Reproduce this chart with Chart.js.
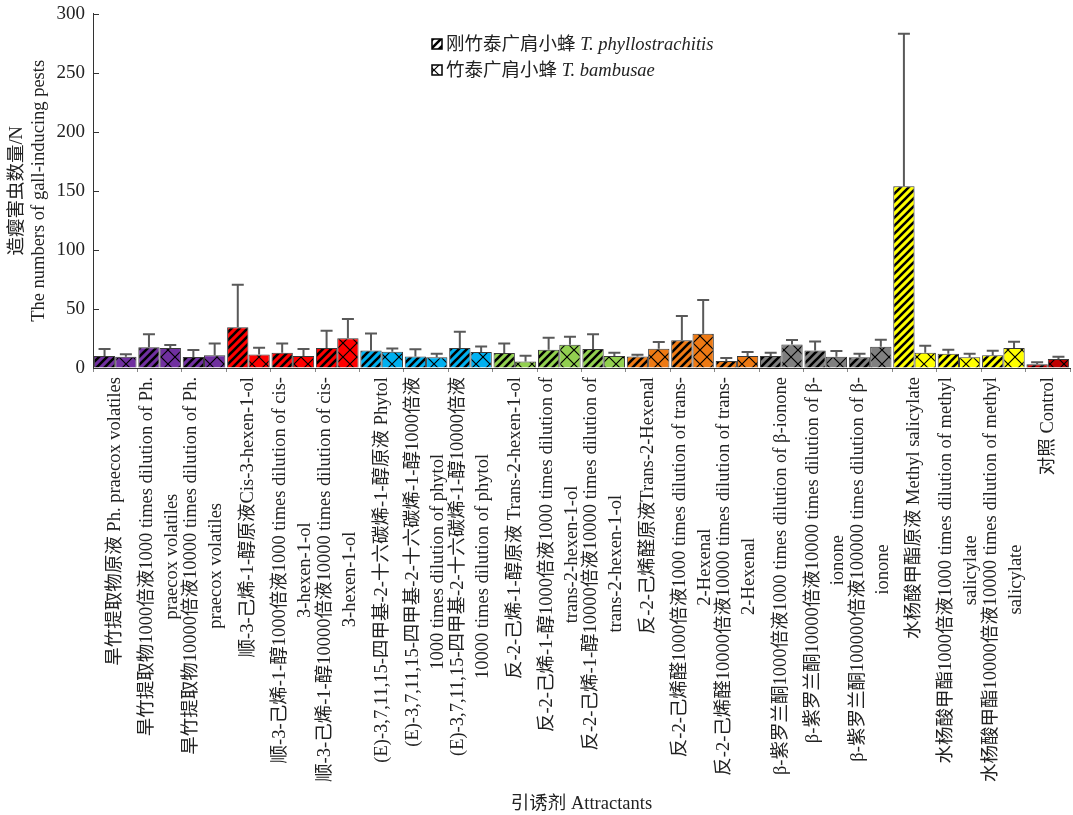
<!DOCTYPE html>
<html>
<head>
<meta charset="utf-8">
<script src="https://cdn.jsdelivr.net/npm/chart.js@4.4.1/dist/chart.umd.min.js"></script>
<style>
  html, body { margin: 0; padding: 0; background: #fff; }
  #wrap { width: 1073px; height: 815px; }
</style>
</head>
<body>
<div id="wrap"><canvas id="gallChart" width="1073" height="815"></canvas></div>
<script>
// 引诱剂 (每个标签按原图换行)
const attractants = [
    ["旱竹提取物原液 Ph. praecox volatiles"],
    ["旱竹提取物1000倍液1000 times dilution of Ph.", "praecox volatiles"],
    ["旱竹提取物10000倍液10000 times dilution of Ph.", "praecox volatiles"],
    ["顺-3-己烯-1-醇原液Cis-3-hexen-1-ol"],
    ["顺-3-己烯-1-醇1000倍液1000 times dilution of cis-", "3-hexen-1-ol"],
    ["顺-3-己烯-1-醇10000倍液10000 times dilution of cis-", "3-hexen-1-ol"],
    ["(E)-3,7,11,15-四甲基-2-十六碳烯-1-醇原液 Phytol"],
    ["(E)-3,7,11,15-四甲基-2-十六碳烯-1-醇1000倍液", "1000 times dilution of phytol"],
    ["(E)-3,7,11,15-四甲基-2-十六碳烯-1-醇10000倍液", "10000 times dilution of phytol"],
    ["反-2-己烯-1-醇原液 Trans-2-hexen-1-ol"],
    ["反-2-己烯-1-醇1000倍液1000 times dilution of", "trans-2-hexen-1-ol"],
    ["反-2-己烯-1-醇10000倍液10000 times dilution of", "trans-2-hexen-1-ol"],
    ["反-2-己烯醛原液Trans-2-Hexenal"],
    ["反-2-己烯醛1000倍液1000 times dilution of trans-", "2-Hexenal"],
    ["反-2-己烯醛10000倍液10000 times dilution of trans-", "2-Hexenal"],
    ["β-紫罗兰酮1000倍液1000 times dilution of β-ionone"],
    ["β-紫罗兰酮10000倍液10000 times dilution of β-", "ionone"],
    ["β-紫罗兰酮100000倍液100000 times dilution of β-", "ionone"],
    ["水杨酸甲酯原液 Methyl salicylate"],
    ["水杨酸甲酯1000倍液1000 times dilution of methyl", "salicylate"],
    ["水杨酸甲酯10000倍液10000 times dilution of methyl", "salicylate"],
    ["对照 Control"]
];

// 刚竹泰广肩小蜂 T. phyllostrachitis
const phyllMean = [10.1, 17.5, 9.3, 34.6, 13.0, 16.9, 14.9, 9.8, 16.9, 12.7, 15.5, 16.0, 9.8, 23.4, 5.9, 10.1, 14.9, 9.0, 153.8, 12.1, 10.7, 3.1];
const phyllSd = [5.9, 11.0, 5.9, 35.8, 7.8, 14.6, 14.4, 6.0, 13.8, 8.1, 10.1, 12.5, 1.5, 20.6, 2.5, 2.9, 7.6, 3.1, 129.2, 3.4, 4.0, 1.7];

// 竹泰广肩小蜂 T. bambusae
const bambMean = [9.6, 16.9, 10.7, 11.5, 10.1, 25.1, 13.8, 9.0, 13.5, 5.6, 19.7, 10.1, 16.3, 29.0, 10.1, 20.0, 9.6, 18.0, 13.0, 9.0, 16.9, 7.6];
const bambSd = [2.0, 2.5, 10.1, 5.7, 5.9, 16.3, 2.8, 3.1, 4.8, 4.8, 6.8, 2.9, 5.7, 28.5, 3.4, 3.7, 4.8, 5.9, 5.9, 3.1, 5.4, 2.0];

const yTicks = [0, 50, 100, 150, 200, 250, 300];

// 每组颜色
const groupColors = [
    '#7030A0', '#7030A0', '#7030A0',
    '#FF0000', '#FF0000', '#FF0000',
    '#00B0F0', '#00B0F0', '#00B0F0',
    '#92D050', '#92D050', '#92D050',
    '#EE7A14', '#EE7A14', '#EE7A14',
    '#808080', '#808080', '#808080',
    '#FFFF00', '#FFFF00', '#FFFF00',
    '#C00000'
];

const serif = "'Liberation Serif', 'Noto Sans CJK SC', serif";
const textColor = '#222';

function stripePattern(color) {
    const c = document.createElement('canvas');
    c.width = 8; c.height = 8;
    const g = c.getContext('2d');
    g.fillStyle = color;
    g.fillRect(0, 0, 8, 8);
    g.strokeStyle = '#000';
    g.lineWidth = 2.6;
    g.beginPath();
    g.moveTo(-2, 2); g.lineTo(2, -2);
    g.moveTo(0, 8); g.lineTo(8, 0);
    g.moveTo(6, 10); g.lineTo(10, 6);
    g.stroke();
    return g.createPattern(c, 'repeat');
}

function crossPattern(color) {
    const c = document.createElement('canvas');
    c.width = 14; c.height = 14;
    const g = c.getContext('2d');
    g.fillStyle = color;
    g.fillRect(0, 0, 14, 14);
    g.strokeStyle = '#000';
    g.lineWidth = 1.2;
    g.beginPath();
    g.moveTo(0, 0); g.lineTo(14, 14);
    g.moveTo(14, 0); g.lineTo(0, 14);
    g.stroke();
    g.fillStyle = '#000';
    g.fillRect(6, 6, 2, 2);
    return g.createPattern(c, 'repeat');
}

// 误差线
const errorBars = {
    id: 'errorBars',
    afterDatasetsDraw(chart) {
        const ctx = chart.ctx;
        const y = chart.scales.y;
        const sds = [phyllSd, bambSd];
        ctx.save();
        ctx.strokeStyle = '#595959';
        ctx.lineWidth = 2;
        chart.data.datasets.forEach((ds, i) => {
            const meta = chart.getDatasetMeta(i);
            meta.data.forEach((bar, j) => {
                const top = y.getPixelForValue(ds.data[j] + sds[i][j]);
                ctx.beginPath();
                ctx.moveTo(bar.x, bar.y);
                ctx.lineTo(bar.x, top);
                ctx.moveTo(bar.x - 6, top);
                ctx.lineTo(bar.x + 6, top);
                ctx.stroke();
            });
        });
        ctx.restore();
    }
};

// 旋转的类别标签、内侧刻度、图例
const decorations = {
    id: 'decorations',
    afterDraw(chart) {
        const ctx = chart.ctx;
        const x = chart.scales.x;
        const y = chart.scales.y;
        const area = chart.chartArea;
        ctx.save();

        // y 轴内侧刻度
        ctx.strokeStyle = '#333';
        ctx.lineWidth = 1;
        yTicks.forEach(v => {
            const py = Math.round(y.getPixelForValue(v)) + 0.5;
            ctx.beginPath();
            ctx.moveTo(area.left, py);
            ctx.lineTo(area.left + 6, py);
            ctx.stroke();
        });

        // 类别标签
        ctx.font = "18.5px " + serif;
        ctx.fillStyle = textColor;
        ctx.textAlign = 'center';
        ctx.textBaseline = 'middle';
        const lineH = 25;
        attractants.forEach((lines, i) => {
            const px = x.getPixelForValue(i);
            const maxW = Math.max(...lines.map(l => ctx.measureText(l).width));
            ctx.save();
            ctx.translate(px, area.bottom + 9 + maxW / 2);
            ctx.rotate(-Math.PI / 2);
            lines.forEach((l, k) => {
                ctx.fillText(l, 0, (k - (lines.length - 1) / 2) * lineH);
            });
            ctx.restore();
        });

        // 图例
        const items = [
            { cn: '刚竹泰广肩小蜂 ', la: 'T. phyllostrachitis', fill: stripePattern('#fff') },
            { cn: '竹泰广肩小蜂 ', la: 'T. bambusae', fill: crossPattern('#fff') }
        ];
        ctx.textAlign = 'left';
        items.forEach((it, k) => {
            const ly = 44 + k * 26;
            ctx.fillStyle = it.fill;
            ctx.fillRect(432, ly - 5, 10, 10);
            ctx.strokeStyle = '#000';
            ctx.lineWidth = 1.5;
            ctx.strokeRect(432, ly - 5, 10, 10);
            ctx.fillStyle = textColor;
            ctx.font = "18.5px " + serif;
            ctx.fillText(it.cn, 446, ly + 1);
            const w = ctx.measureText(it.cn).width;
            ctx.font = "italic 18.5px " + serif;
            ctx.fillText(it.la, 446 + w, ly + 1);
        });
        ctx.restore();
    }
};

const ctx = document.getElementById('gallChart').getContext('2d');
new Chart(ctx, {
    type: 'bar',
    data: {
        labels: attractants,
        datasets: [
            {
                label: '刚竹泰广肩小蜂 T. phyllostrachitis',
                data: phyllMean,
                backgroundColor: groupColors.map(stripePattern),
                borderColor: '#3a3a3a',
                borderWidth: 1
            },
            {
                label: '竹泰广肩小蜂 T. bambusae',
                data: bambMean,
                backgroundColor: groupColors.map(crossPattern),
                borderColor: '#3a3a3a',
                borderWidth: 1
            }
        ]
    },
    options: {
        responsive: false,
        animation: false,
        devicePixelRatio: 1,
        categoryPercentage: 0.96,
        barPercentage: 1.0,
        layout: { padding: { left: 0, right: 3, top: 7, bottom: 0 } },
        plugins: {
            legend: { display: false },
            tooltip: { enabled: false }
        },
        scales: {
            x: {
                offset: true,
                afterFit(scale) { scale.height = 447; },
                grid: {
                    drawOnChartArea: false,
                    drawTicks: true,
                    tickLength: 4,
                    color: '#888'
                },
                border: { display: true, color: '#333', width: 1 },
                ticks: { display: false },
                title: {
                    display: true,
                    text: '引诱剂 Attractants',
                    color: textColor,
                    font: { family: serif, size: 18.5 },
                    padding: { top: 0, bottom: 0 }
                }
            },
            y: {
                min: 0,
                max: 300,
                afterFit(scale) { scale.width = 93; },
                afterBuildTicks(scale) { scale.ticks = yTicks.map(v => ({ value: v })); },
                grid: { drawOnChartArea: false, drawTicks: false },
                border: { display: true, color: '#333', width: 1 },
                ticks: {
                    padding: 8,
                    color: textColor,
                    font: { family: serif, size: 19, lineHeight: 0.6 }
                },
                title: {
                    display: true,
                    text: ['造瘿害虫数量/N', 'The numbers of gall-inducing pests'],
                    color: textColor,
                    font: { family: serif, size: 18.5, lineHeight: 1.2 },
                    padding: { top: 6, bottom: 0 }
                }
            }
        }
    },
    plugins: [errorBars, decorations]
});
</script>
</body>
</html>
